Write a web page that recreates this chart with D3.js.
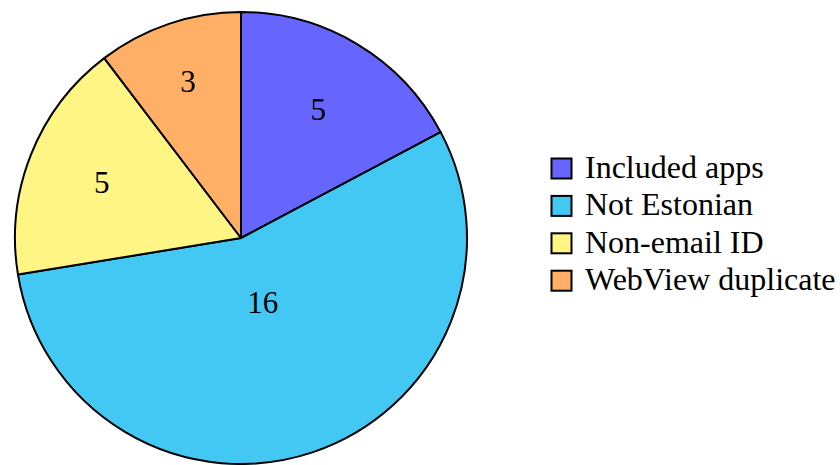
<!DOCTYPE html>
<html>
<head>
<meta charset="utf-8">
<script src="https://cdn.jsdelivr.net/npm/d3@7"></script>
<style>
  body { margin: 0; background: #fff; }
  svg { display: block; }
  text { font-family: "Liberation Serif", "Times New Roman", serif; }
</style>
</head>
<body>
<div id="chart"></div>
<script>
// data
var categories = ["Included apps", "Not Estonian", "Non-email ID", "WebView duplicate"];
var counts = [5, 16, 5, 3];
var colors = ["#6666ff", "#42c8f2", "#fff585", "#ffb066"];

var width = 840, height = 465;
var cx = 241, cy = 238, radius = 226;
// distance of each value label from centre, per slice
var labelDist = [150, 68, 150, 166];

var svg = d3.select("#chart")
  .append("svg")
  .attr("width", width)
  .attr("height", height);

var pie = d3.pie().sort(null).value(function(d) { return d; });
var arcs = pie(counts);

var arc = d3.arc().innerRadius(0).outerRadius(radius);

var g = svg.append("g").attr("transform", "translate(" + cx + "," + cy + ")");

g.selectAll("path")
  .data(arcs)
  .enter().append("path")
    .attr("d", arc)
    .attr("fill", function(d, i) { return colors[i]; })
    .attr("stroke", "#000")
    .attr("stroke-width", 2)
    .attr("stroke-linejoin", "round");

g.selectAll("text.val")
  .data(arcs)
  .enter().append("text")
    .attr("class", "val")
    .attr("x", function(d, i) {
      var a = (d.startAngle + d.endAngle) / 2;
      return Math.sin(a) * labelDist[i];
    })
    .attr("y", function(d, i) {
      var a = (d.startAngle + d.endAngle) / 2;
      return -Math.cos(a) * labelDist[i];
    })
    .attr("dy", "0.35em")
    .attr("text-anchor", "middle")
    .style("font-size", "31px")
    .style("fill", "#000")
    .text(function(d) { return d.data; });

// legend
var legend = svg.append("g").attr("transform", "translate(551,158)");
var row = legend.selectAll("g")
  .data(categories)
  .enter().append("g")
    .attr("transform", function(d, i) { return "translate(0," + (i * 37.4) + ")"; });

row.append("rect")
  .attr("x", 0.5)
  .attr("y", 0.5)
  .attr("width", 20)
  .attr("height", 20)
  .attr("fill", function(d, i) { return colors[i]; })
  .attr("stroke", "#000")
  .attr("stroke-width", 2);

row.append("text")
  .attr("x", 34)
  .attr("y", 20)
  .style("font-size", "32px")
  .style("fill", "#000")
  .text(function(d) { return d; });
</script>
</body>
</html>
